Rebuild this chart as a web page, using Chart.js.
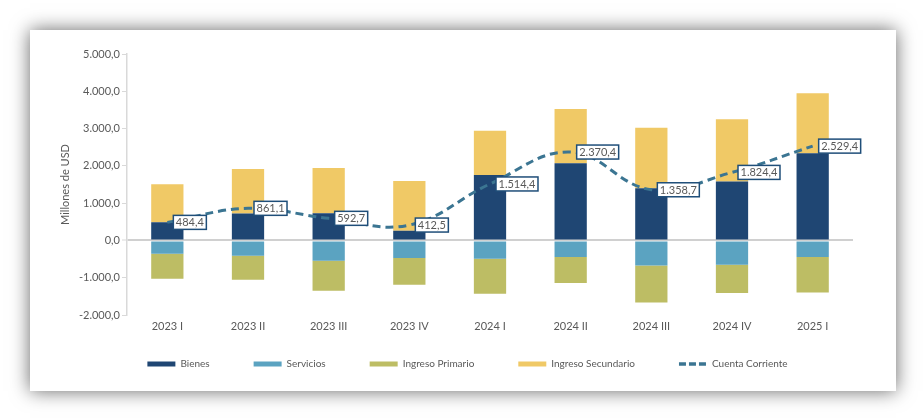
<!DOCTYPE html>
<html>
<head>
<meta charset="utf-8">
<script src="https://cdn.jsdelivr.net/npm/chart.js@4.4.1/dist/chart.umd.min.js"></script>
<style>
  body { margin: 0; background: #fff; width: 924px; height: 420px; position: relative; overflow: hidden; }
  #card { position: absolute; left: 30px; top: 30px; width: 866px; height: 361px; background: #fff;
          box-shadow: 0 0 18px rgba(0,0,0,0.6); }
</style>
</head>
<body>
<div id="card"><canvas id="balanza" width="866" height="361"></canvas></div>
<script>
// Balanza de pagos - cuenta corriente (millones de USD)
const trimestres = ['2023 I', '2023 II', '2023 III', '2023 IV', '2024 I', '2024 II', '2024 III', '2024 IV', '2025 I'];
const bienes = [490, 721, 731, 257, 1757, 2071, 1401, 1578, 2339];
const servicios = [-360, -413, -546, -474, -493, -447, -672, -654, -447];
const ingresoPrimario = [-665, -642, -804, -715, -935, -697, -992, -758, -949];
const ingresoSecundario = [1020, 1197, 1214, 1340, 1187, 1454, 1623, 1671, 1607];
const cuentaCorriente = [484.4, 861.1, 592.7, 412.5, 1514.4, 2370.4, 1358.7, 1824.4, 2529.4];

Chart.defaults.font.family = 'Lato';
Chart.defaults.font.size = 11;
Chart.defaults.color = '#595959';

function fmt(v) {
    const parts = Math.abs(v).toFixed(1).split('.');
    const ent = parts[0].replace(/\B(?=(\d{3})+(?!\d))/g, '.');
    return (v < 0 ? '-' : '') + ent + ',' + parts[1];
}

// etiquetas con recuadro para la cuenta corriente
const etiquetasCC = {
    id: 'etiquetasCC',
    afterDatasetsDraw(chart) {
        const meta = chart.getDatasetMeta(4);
        const ctx = chart.ctx;
        ctx.save();
        ctx.font = '11px Lato';
        ctx.textBaseline = 'middle';
        meta.data.forEach((pt, i) => {
            const txt = fmt(cuentaCorriente[i]);
            const w = ctx.measureText(txt).width + 5;
            const h = 14;
            const x = pt.x + 6;
            const y = pt.y - h / 2;
            ctx.fillStyle = '#fff';
            ctx.fillRect(x, y, w, h);
            ctx.strokeStyle = '#1f4e79';
            ctx.lineWidth = 1.5;
            ctx.strokeRect(x, y, w, h);
            ctx.fillStyle = '#595959';
            ctx.fillText(txt, x + 2.5, pt.y + 0.5);
        });
        ctx.restore();
    }
};

new Chart(document.getElementById('balanza'), {
    type: 'bar',
    data: {
        labels: trimestres,
        datasets: [
            { label: 'Bienes', data: bienes, backgroundColor: '#1f4673', pointStyle: 'rect' },
            { label: 'Servicios', data: servicios, backgroundColor: '#5ba3c1', pointStyle: 'rect' },
            { label: 'Ingreso Primario', data: ingresoPrimario, backgroundColor: '#bdbd64', pointStyle: 'rect' },
            { label: 'Ingreso Secundario', data: ingresoSecundario, backgroundColor: '#f0c966', pointStyle: 'rect' },
            {
                type: 'line',
                label: 'Cuenta Corriente',
                data: cuentaCorriente,
                stack: 'cc',
                order: -1,
                borderColor: '#3b7592',
                backgroundColor: '#3b7592',
                borderWidth: 3,
                borderDash: [8, 5],
                tension: 0.4,
                pointRadius: 0,
                pointStyle: 'line'
            }
        ]
    },
    options: {
        responsive: false,
        animation: false,
        categoryPercentage: 1,
        barPercentage: 0.4,
        layout: { padding: { left: 25, right: 16, top: 24, bottom: 12 } },
        plugins: {
            tooltip: { enabled: false },
            legend: {
                position: 'bottom',
                labels: {
                    usePointStyle: true,
                    pointStyleWidth: 28,
                    boxHeight: 5,
                    padding: 44,
                    color: '#595959',
                    font: { size: 10 },
                    sort: (a, b) => a.datasetIndex - b.datasetIndex,
                    generateLabels: (chart) => {
                        const items = Chart.defaults.plugins.legend.labels.generateLabels(chart);
                        items.forEach((it) => {
                            if (it.datasetIndex === 4) { it.lineDash = [7, 3]; it.lineWidth = 3.5; }
                        });
                        return items;
                    }
                }
            }
        },
        scales: {
            x: {
                stacked: true,
                grid: { display: false, drawTicks: false },
                border: { display: false },
                ticks: { mirror: true, padding: -18 },
                afterFit: (s) => { s.height = 0; }
            },
            y: {
                stacked: true,
                min: -2000,
                max: 5000,
                ticks: { stepSize: 1000, padding: 2, callback: (v) => fmt(v) },
                grid: {
                    color: (c) => (c.tick && c.tick.value === 0 ? '#d0d0d0' : 'rgba(0,0,0,0)'),
                    lineWidth: (c) => (c.tick && c.tick.value === 0 ? 2 : 1),
                    tickColor: '#d9d9d9',
                    tickLength: 5,
                    tickWidth: 1
                },
                border: { display: true, color: '#d9d9d9', width: 1.5 },
                title: { display: true, text: 'Millones de USD', color: '#595959', padding: { top: 4, bottom: 0 } },
                afterFit: (s) => { s.width = 72; }
            },
            y2: {
                position: 'right',
                grid: { display: false },
                border: { display: false },
                ticks: { display: false },
                afterFit: (s) => { s.width = 27; }
            }
        }
    },
    plugins: [etiquetasCC]
});
</script>
</body>
</html>
